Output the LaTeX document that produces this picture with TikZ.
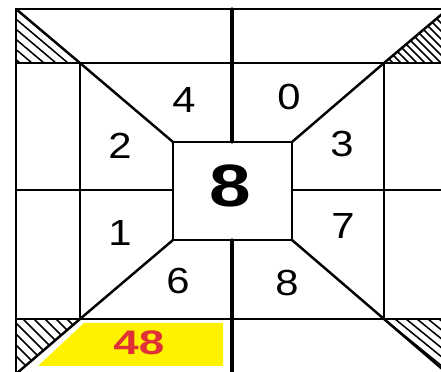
\documentclass[tikz,border=0pt]{standalone}
\usepackage{fontspec}
\setmainfont{Liberation Sans}
\usepackage{graphicx}
\usepackage{tikz}
\usetikzlibrary{positioning}
\usepackage{xcolor}
\definecolor{numred}{HTML}{E03038}
\definecolor{numyellow}{HTML}{FFF200}
\newcommand{\widedigit}[2][1.15]{\scalebox{#1}[1]{#2}}

\begin{document}
\begin{tikzpicture}[x=0.03cm, y=-0.03cm,
    gridline/.style={black, line width=2.1pt, line cap=round},
    hatchline/.style={black, line width=1.3pt},
    digit/.style={font=\fontsize{31}{33}\selectfont, inner sep=0pt},
    centredigit/.style={font=\fontsize{51}{55}\selectfont\bfseries, inner sep=0pt},
    totaldigit/.style={font=\fontsize{29}{31}\selectfont\bfseries, text=numred, inner sep=0pt}]
  \useasboundingbox (0,0) rectangle (441,372);
  \clip (0,0) rectangle (441,372);
  \fill[white] (0,0) rectangle (441,372);

  % frame and inner square corners
  \coordinate (otl) at (16,9);   \coordinate (otr) at (448,9);
  \coordinate (obl) at (16,374); \coordinate (obr) at (448,374);
  \coordinate (itl) at (80,63);  \coordinate (itr) at (384,63);
  \coordinate (ibl) at (80,319); \coordinate (ibr) at (384,319);
  \coordinate (ctl) at (173,142); \coordinate (ctr) at (292,142);
  \coordinate (cbl) at (173,240); \coordinate (cbr) at (292,240);

  % yellow band
  \fill[numyellow] (84,323) -- (223,323) -- (223,366) -- (38,366) -- cycle;

  % hatched corners
  \begin{scope}
    \clip (otl) -- (itl) -- (16,63) -- cycle;
    \foreach \s in {0,12,...,84}
      \draw[hatchline] (16-\s,9) -- ++(128,108);
  \end{scope}
  \begin{scope}
    \clip (itr) -- (otr) -- (448,63) -- cycle;
    \foreach \s in {0,8,...,120}
      \draw[hatchline] (330+\s,0) -- ++(90,90);
  \end{scope}
  \begin{scope}
    \clip (ibl) -- (16,319) -- (obl) -- cycle;
    \foreach \s in {0,11,...,120}
      \draw[hatchline] (-40+\s,300) -- ++(90,90);
  \end{scope}
  \begin{scope}
    \clip (ibr) -- (448,319) -- (obr) -- cycle;
    \foreach \s in {0,11,...,80}
      \draw[hatchline] (384+\s,319) -- ++(128,104);
  \end{scope}

  % grid
  \draw[gridline] (otl) rectangle (obr);
  \draw[gridline] (16,63) -- (448,63);
  \draw[gridline] (16,319) -- (448,319);
  \draw[gridline] (itl) -- (ibl);
  \draw[gridline] (itr) -- (ibr);
  \draw[gridline] (16,190) -- (173,190);
  \draw[gridline] (292,190) -- (448,190);
  \draw[gridline, line width=2.6pt] (232,9) -- (232,142);
  \draw[gridline, line width=2.6pt] (232,240) -- (232,374);
  \draw[gridline] (ctl) rectangle (cbr);

  % diagonals
  \draw[gridline] (otl) -- (itl) -- (ctl);
  \draw[gridline] (otr) -- (itr) -- (ctr);
  \draw[gridline] (obl) -- (ibl) -- (cbl);
  \draw[gridline] (obr) -- (ibr) -- (cbr);

  % numbers
  \node[digit] (n4) at (184,100) {\widedigit{4}};
  \node[digit] (n0) at (289,97) {\widedigit{0}};
  \node[digit] (n2) at (120,146) {\widedigit{2}};
  \node[digit] (n3) at (342,144) {\widedigit{3}};
  \node[digit] (n1) at (120,233) {\widedigit{1}};
  \node[digit] (n7) at (343,226) {\widedigit{7}};
  \node[digit] (n6) at (178,281) {\widedigit{6}};
  \node[digit] (n8) at (287,283) {\widedigit{8}};
  \node[centredigit] (mid) at (230,186) {\widedigit[1.25]{8}};
  \node[totaldigit] (total) at (139,343) {\widedigit[1.35]{48}};
\end{tikzpicture}
\end{document}
